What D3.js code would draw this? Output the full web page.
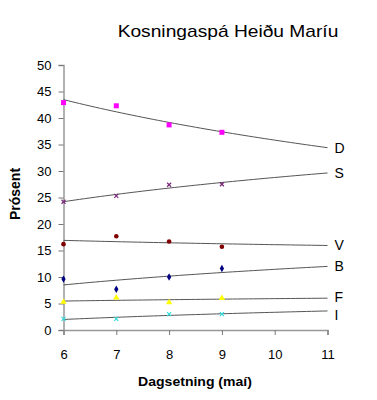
<!DOCTYPE html>
<html><head><meta charset="utf-8">
<script src="https://cdn.jsdelivr.net/npm/d3@7/dist/d3.min.js"></script>
<style>body{margin:0;background:#fff}svg{display:block;font-family:Arial,"Liberation Sans",sans-serif}</style>
</head><body><svg id="c" width="377" height="400"></svg>
<script>
const days = [6, 7, 8, 9];
const xTicks = [6, 7, 8, 9, 10, 11];
const yTicks = [0, 5, 10, 15, 20, 25, 30, 35, 40, 45, 50];
const seriesNames = ["D", "S", "V", "B", "F", "I"];
const valD = [42.9, 42.3, 38.7, 37.3];
const valS = [24.2, 25.3, 27.4, 27.5];
const valV = [16.2, 17.7, 16.7, 15.7];
const valB = [9.6, 7.7, 10.0, 11.6];
const valF = [5.3, 6.1, 5.2, 6.0];
const valI = [2.1, 2.1, 3.0, 3.0];
const colors = {D:"#ff00ff", S:"#7a2a7a", V:"#800000", B:"#000080", F:"#ffff00", I:"#33dddd"};
const markers = {D:"square", S:"cross", V:"circle", B:"diamond", F:"triangle", I:"cross"};
const values = {D:valD, S:valS, V:valV, B:valB, F:valF, I:valI};
const labelShift = {D:5, S:5, V:5, B:5, F:4, I:9};

const svg = d3.select("#c");
const x = d3.scaleLinear().domain([6, 11]).range([63.5, 327.5]);
const y = d3.scaleLinear().domain([0, 50]).range([330, 65]);

svg.append("text").attr("transform", "translate(228,37) scale(1.2,1)").attr("text-anchor", "middle")
  .attr("font-size", 16).text("Kosningaspá Heiðu Maríu");

const yAx = svg.append("g").attr("transform", "translate(63.5,0)")
  .call(d3.axisLeft(y).tickValues(yTicks).tickSize(5).tickPadding(7).tickFormat(d3.format("d")));
const xAx = svg.append("g").attr("transform", "translate(0,330)")
  .call(d3.axisBottom(x).tickValues(xTicks).tickSize(5).tickPadding(15).tickFormat(d3.format("d")));
[yAx, xAx].forEach(a => {
  a.select(".domain").attr("stroke", "#999").attr("stroke-width", 1.5);
  a.selectAll(".tick line").attr("stroke", "#777");
  a.selectAll("text").attr("font-size", 13).attr("fill", "#000").attr("font-family", "Arial, 'Liberation Sans', sans-serif");
});

svg.append("text").attr("transform", "translate(20,194) rotate(-90)").attr("text-anchor", "middle")
  .attr("font-size", 14).attr("font-weight", "bold").text("Prósent");
svg.append("text").attr("transform", "translate(195,386) scale(1.17,1)").attr("text-anchor", "middle")
  .attr("font-size", 12).attr("font-weight", "bold").text("Dagsetning (maí)");

// logarithmic trendline (least squares on ln x)
function logFit(xs, ys) {
  const lx = xs.map(Math.log);
  const mx = d3.mean(lx), my = d3.mean(ys);
  const b = d3.sum(lx, (v, i) => (v - mx) * (ys[i] - my)) / d3.sum(lx, v => (v - mx) ** 2);
  const a = my - b * mx;
  return t => a + b * Math.log(t);
}
const line = d3.line().x(d => x(d[0])).y(d => y(d[1]));
const samples = d3.range(6, 11.001, 0.1);

seriesNames.forEach(name => {
  const vals = values[name];
  const f = logFit(days, vals);
  svg.append("path").attr("d", line(samples.map(t => [t, f(t)])))
    .attr("fill", "none").attr("stroke", "#555").attr("stroke-width", 1);
  svg.append("text").attr("x", x(11) + 7).attr("y", y(f(11)) + labelShift[name])
    .attr("font-size", 14).text(name);
  const g = svg.append("g");
  days.forEach((d, i) => {
    const cx = x(d), cy = y(vals[i]), c = colors[name];
    const m = markers[name];
    if (m === "square") g.append("rect").attr("x", cx - 2.5).attr("y", cy - 2.5).attr("width", 5).attr("height", 5).attr("fill", c);
    else if (m === "circle") g.append("circle").attr("cx", cx).attr("cy", cy).attr("r", 2.3).attr("fill", c);
    else if (m === "diamond") g.append("path").attr("d", d3.symbol(d3.symbolDiamond, 16)()).attr("transform", `translate(${cx},${cy})`).attr("fill", c);
    else if (m === "triangle") g.append("path").attr("d", d3.symbol(d3.symbolTriangle, 18)()).attr("transform", `translate(${cx},${cy})`).attr("fill", c);
    else g.append("path").attr("d", d3.symbol(d3.symbolX, 12)()).attr("transform", `translate(${cx},${cy})`).attr("fill", "none").attr("stroke", c).attr("stroke-width", 1.2);
  });
});
</script></body></html>
